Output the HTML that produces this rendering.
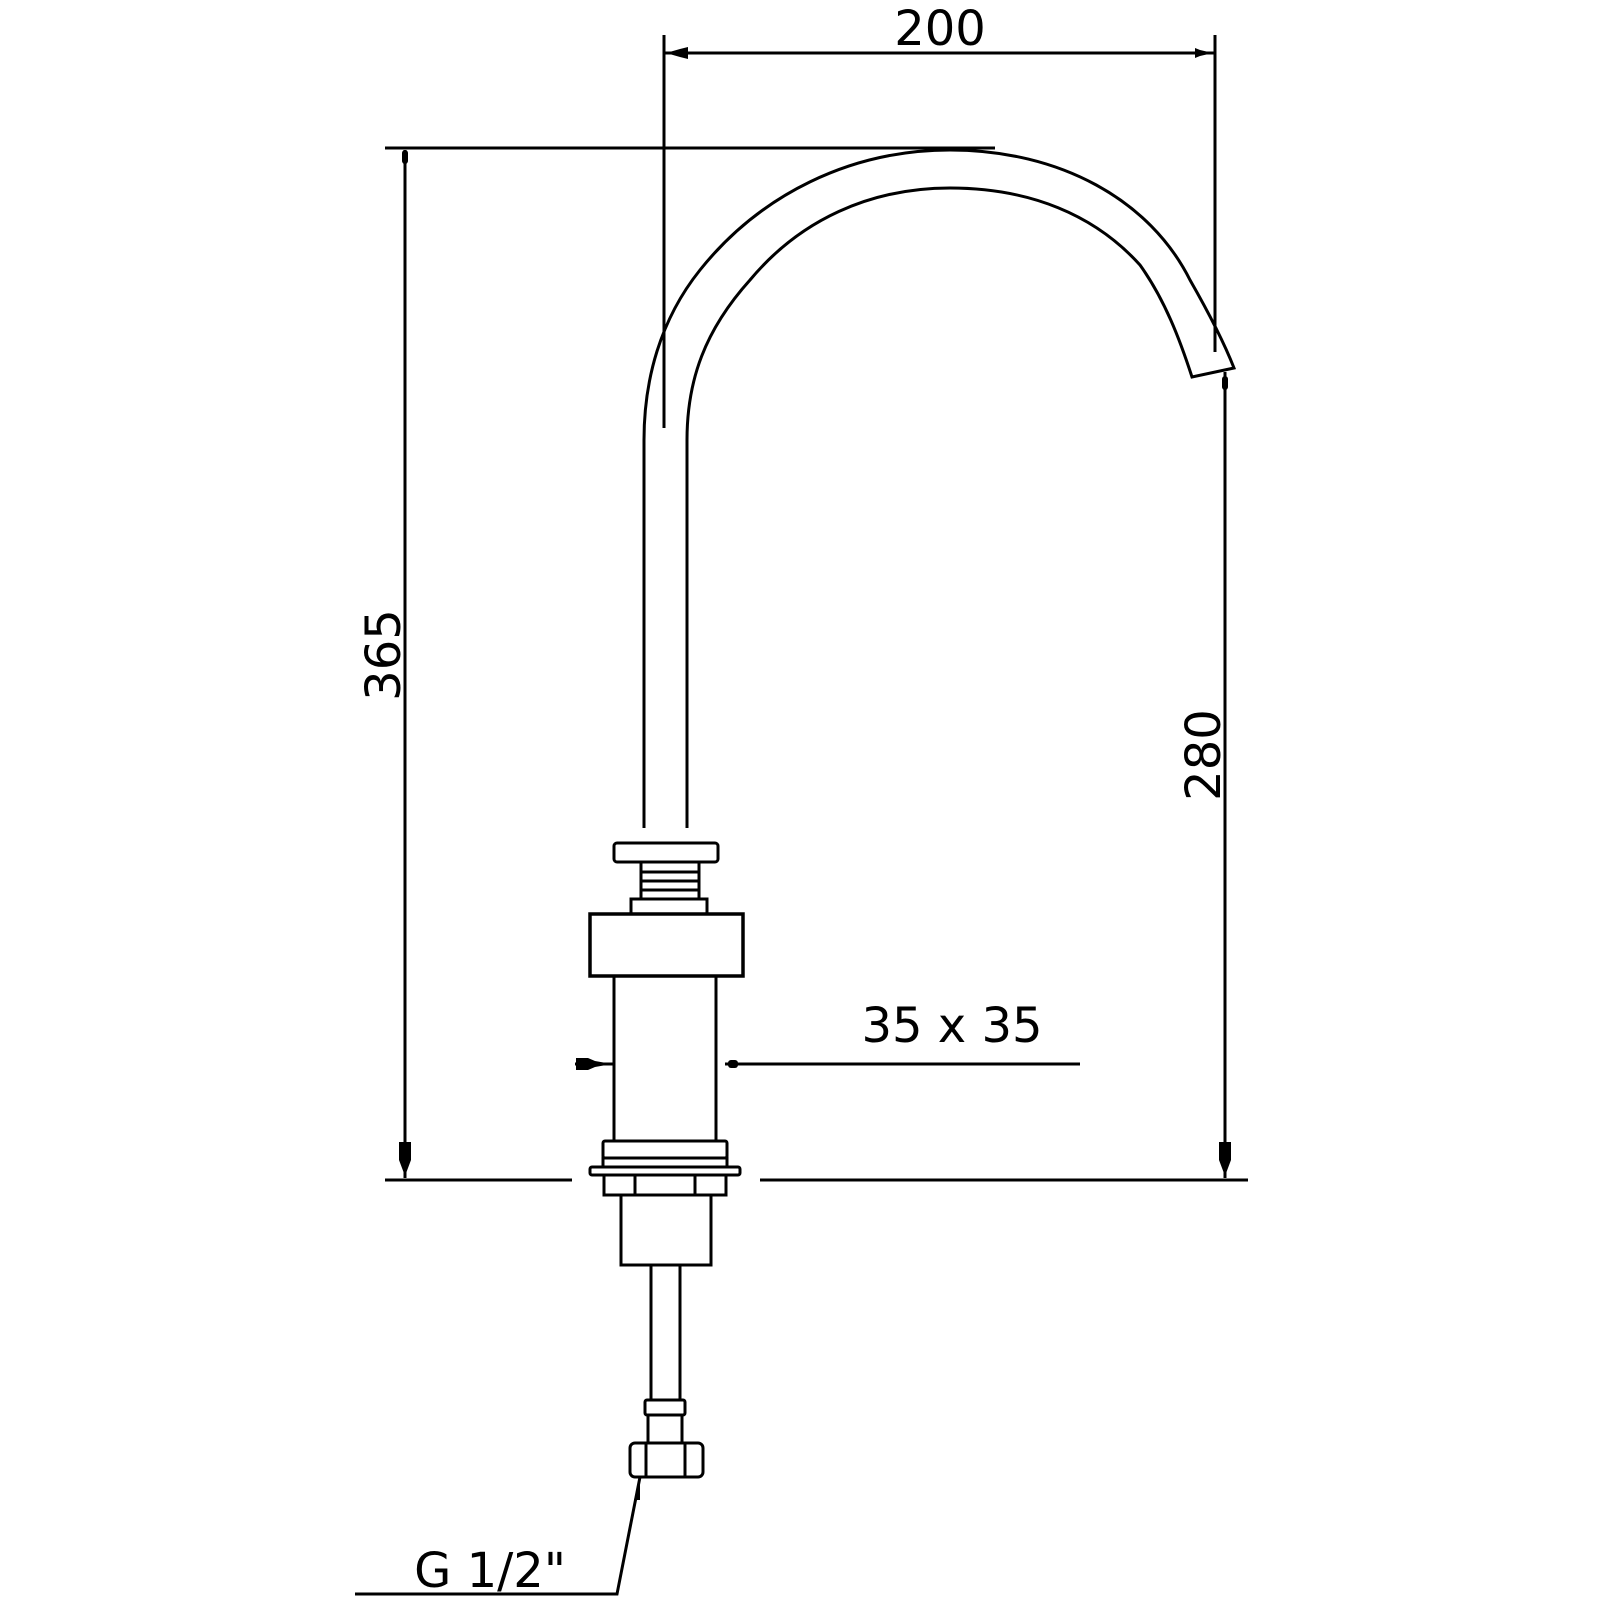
<!DOCTYPE html>
<html><head><style>html,body{margin:0;padding:0;background:#fff}svg{display:block}</style></head>
<body>
<svg width="1600" height="1600" viewBox="0 0 1600 1600" xmlns="http://www.w3.org/2000/svg">
<g fill="none" stroke="#000" stroke-width="3">
<!-- dimension lines -->
<line x1="664" y1="35" x2="664" y2="428"/>
<line x1="1215" y1="35" x2="1215" y2="352"/>
<line x1="664" y1="53" x2="1215" y2="53"/>
<line x1="385" y1="148" x2="995" y2="148"/>
<line x1="405" y1="150" x2="405" y2="1178"/>
<line x1="1225" y1="372" x2="1225" y2="1178"/>
<line x1="385" y1="1180" x2="572" y2="1180"/>
<line x1="760" y1="1180" x2="1248" y2="1180"/>
<line x1="725" y1="1064" x2="1080" y2="1064"/>
<line x1="575" y1="1064" x2="613" y2="1064"/>
<polyline points="640,1477 617,1594 355,1594"/>
<!-- spout -->
<path d="M644,828 L644,440 C644,380 660,320 700,270 C760,195 850,150 950,150 C1060,150 1150,200 1190,280 C1210,315 1225,345 1234,368 L1192,377 C1180,340 1165,300 1140,265 C1095,215 1030,188 950,188 C870,188 800,220 750,280 C705,330 687,380 687,440 L687,828"/>
<!-- flange & threads -->
<rect x="614" y="843" width="104" height="19" rx="3"/>
<rect x="641" y="862" width="58" height="10"/>
<rect x="641" y="872" width="58" height="9"/>
<rect x="641" y="881" width="58" height="9"/>
<rect x="641" y="890" width="58" height="9"/>
<rect x="631" y="899" width="76" height="15"/>
<!-- block & body -->
<rect x="590" y="914" width="153" height="62" stroke-width="3.5"/>
<rect x="614" y="976" width="102" height="165"/>
<rect x="603" y="1141" width="124" height="17" rx="2"/>
<rect x="603" y="1158" width="124" height="9"/>
<rect x="590" y="1167" width="150" height="8" rx="2"/>
<rect x="604" y="1175" width="122" height="20"/>
<line x1="635" y1="1175" x2="635" y2="1195"/>
<line x1="695" y1="1175" x2="695" y2="1195"/>
<rect x="621" y="1195" width="90" height="70"/>
<!-- supply pipe -->
<line x1="651" y1="1265" x2="651" y2="1400"/>
<line x1="680" y1="1265" x2="680" y2="1400"/>
<rect x="645" y="1400" width="40" height="15" rx="2"/>
<line x1="648" y1="1415" x2="648" y2="1442"/>
<line x1="682" y1="1415" x2="682" y2="1442"/>
<rect x="630" y="1443" width="73" height="34" rx="5"/>
<line x1="646" y1="1443" x2="646" y2="1477"/>
<line x1="685" y1="1443" x2="685" y2="1477"/>
</g>
<!-- arrowheads -->
<g fill="#000">
<path d="M666,53 L680,49 L688,47 L688,59 L680,57 Z"/>
<path d="M1213,53 L1200,50 L1195,48 L1195,58 L1200,56 Z"/>
<rect x="402" y="150" width="6" height="14" rx="3"/>
<path d="M405,1176 L399,1160 L399,1142 L411,1142 L411,1160 Z"/>
<path d="M1225,1176 L1219,1160 L1219,1142 L1231,1142 L1231,1160 Z"/>
<rect x="1222" y="376" width="6" height="14" rx="3"/>
<path d="M612,1064 L595,1061 L588,1058 L576,1058 L576,1070 L588,1070 L595,1067 Z"/>
<rect x="728" y="1060" width="10" height="8" rx="3"/>
<path d="M640,1479 L634,1500 L640,1500 Z"/>
</g>
<g font-family="'DejaVu Sans','Liberation Sans',sans-serif" font-size="48" fill="#000" text-anchor="middle">
<text x="940" y="45">200</text>
<text x="952" y="1042">35 x 35</text>
<text x="490" y="1587">G 1/2"</text>
<text transform="translate(400,655) rotate(-90)">365</text>
<text transform="translate(1220,755) rotate(-90)">280</text>
</g>
</svg>
</body></html>
